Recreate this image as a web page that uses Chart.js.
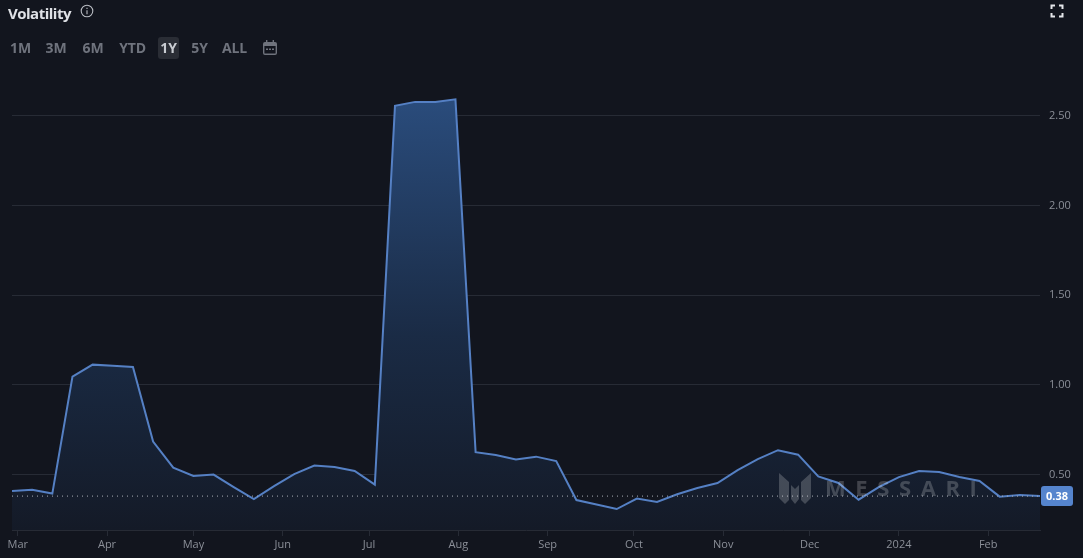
<!DOCTYPE html>
<html>
<head>
<meta charset="utf-8">
<title>Volatility</title>
<script src="https://cdn.jsdelivr.net/npm/chart.js@4"></script>
<style>
  html, body { margin: 0; padding: 0; background: #12151e; width: 1083px; height: 558px; overflow: hidden; }
  body { position: relative; font-family: "Open Sans", Inter, sans-serif; }
  canvas { position: absolute; left: 0; top: 0; }
  .title { position: absolute; left: 8px; top: 3px; color: #dfe1e6; font-size: 15px; font-weight: 700; line-height: 20px; letter-spacing: -0.5px; }
  .info { position: absolute; left: 80px; top: 4px; }
  .full { position: absolute; left: 1050px; top: 4px; }
  .range { position: absolute; top: 37px; height: 22px; line-height: 22px; color: #6f737d; font-size: 14px; font-weight: 700; text-align: center; letter-spacing: -0.2px; }
  .range.active { background: #2a2d35; color: #c9ccd2; border-radius: 3px; }
  .cal { position: absolute; left: 263px; top: 40px; }
  .mark { position: absolute; left: 779px; top: 473px; }
  .brand { position: absolute; left: 825px; top: 473px; color: rgba(255,255,255,0.2); font-size: 22px; font-weight: 700; letter-spacing: 9.6px; line-height: 28px; }
</style>
</head>
<body>
<canvas id="chart" width="1083" height="558"></canvas>
<div class="title">Volatility</div>
<svg class="info" width="14" height="14" viewBox="0 0 14 14" fill="none" stroke="#b8bbc2" stroke-width="1.1"><circle cx="7" cy="7" r="5.8"/><path d="M7 6.2v4M7 3.8v1.1"/></svg>
<svg class="full" width="14" height="14" viewBox="0 0 14 14" fill="none" stroke="#e4e6ea" stroke-width="2"><path d="M1.5 5V1.5H5M9 1.5h3.5V5M12.5 9v3.5H9M5 12.5H1.5V9"/></svg>
<div id="ranges"></div>
<svg class="cal" width="14" height="15" viewBox="0 0 14 15" fill="#6f737d"><path d="M3 0h1.4v2h5.2V0H11v2h1a2 2 0 0 1 2 2v9a2 2 0 0 1-2 2H2a2 2 0 0 1-2-2V4a2 2 0 0 1 2-2h1zM1.4 6v7c0 .4.2.6.6.6h10c.4 0 .6-.2.6-.6V6z"/><path d="M3 8.5h2V10H3zM6 8.5h2V10H6zM9 8.5h2V10H9z"/></svg>
<svg class="mark" width="32" height="31" viewBox="0 0 32 31" fill="rgba(255,255,255,0.2)"><path d="M0 0l10 9v18l-4 4-6-6zM32 0l-10 9v18l4 4 6-6zM12 12l4 4 4-4v14l-4 5-4-5z"/></svg>
<div class="brand">MESSARI</div>
<script>
const weekDates = [
  '2023-02-27', '2023-03-06', '2023-03-13', '2023-03-20', '2023-03-27', '2023-04-03', '2023-04-10',
  '2023-04-17', '2023-04-24', '2023-05-01', '2023-05-08', '2023-05-15', '2023-05-22', '2023-05-29',
  '2023-06-05', '2023-06-12', '2023-06-19', '2023-06-26', '2023-07-03', '2023-07-10', '2023-07-17',
  '2023-07-24', '2023-07-31', '2023-08-07', '2023-08-14', '2023-08-21', '2023-08-28', '2023-09-04',
  '2023-09-11', '2023-09-18', '2023-09-25', '2023-10-02', '2023-10-09', '2023-10-16', '2023-10-23',
  '2023-10-30', '2023-11-06', '2023-11-13', '2023-11-20', '2023-11-27', '2023-12-04', '2023-12-11',
  '2023-12-18', '2023-12-25', '2024-01-01', '2024-01-08', '2024-01-15', '2024-01-22', '2024-01-29',
  '2024-02-05', '2024-02-12', '2024-02-19'
];
const volatility = [
  0.408, 0.416, 0.394, 1.046, 1.113, 1.107, 1.100, 0.684, 0.539, 0.492, 0.500, 0.430, 0.363,
  0.436, 0.503, 0.550, 0.542, 0.520, 0.444, 2.556, 2.578, 2.578, 2.592, 0.625, 0.609, 0.584,
  0.600, 0.575, 0.358, 0.333, 0.308, 0.366, 0.347, 0.390, 0.425, 0.453, 0.525, 0.586, 0.636,
  0.611, 0.490, 0.453, 0.360, 0.430, 0.486, 0.520, 0.514, 0.486, 0.464, 0.377, 0.386, 0.380
];
const xTickDates = ['2023-03-01', '2023-04-01', '2023-05-01', '2023-06-01', '2023-07-01', '2023-08-01',
  '2023-09-01', '2023-10-01', '2023-11-01', '2023-12-01', '2024-01-01', '2024-02-01'];
const xTickLabels = ['Mar', 'Apr', 'May', 'Jun', 'Jul', 'Aug', 'Sep', 'Oct', 'Nov', 'Dec', '2024', 'Feb'];
const yTicks = [0.5, 1, 1.5, 2, 2.5];
const rangeLabels = ['1M', '3M', '6M', 'YTD', '1Y', '5Y', 'ALL'];
const rangeLeft = [8, 42, 80, 115, 158, 188, 219];
const rangeWidth = [25, 28, 26, 35, 21, 23, 31];

const INK = { bg: '#12151e', grid: '#272b35', tick: '#8b8f98', line: '#5580c4', badge: '#5584cd', dots: '#a9adb5' };

document.getElementById('ranges').innerHTML = rangeLabels.map((r, i) =>
  `<div class="range${r === '1Y' ? ' active' : ''}" style="left:${rangeLeft[i]}px;width:${rangeWidth[i]}px">${r}</div>`
).join('');

const DAY = 86400000;
const start = Date.parse(weekDates[0]);
const toDay = d => (Date.parse(d) - start) / DAY;
const lastValue = volatility[volatility.length - 1];
const lastDay = toDay(weekDates[weekDates.length - 1]);
const tickDays = xTickDates.map(toDay);

/* value badge on the right axis */
const badgePlugin = {
  id: 'lastBadge',
  afterDraw(chart) {
    const ctx = chart.ctx;
    const y = chart.scales.y.getPixelForValue(lastValue);
    const x = chart.chartArea.right + 1;
    ctx.save();
    ctx.fillStyle = INK.badge;
    ctx.beginPath();
    ctx.roundRect(x, y - 10, 32, 20, 3);
    ctx.fill();
    ctx.fillStyle = '#ffffff';
    ctx.font = '700 11px "Open Sans", sans-serif';
    ctx.textAlign = 'center';
    ctx.textBaseline = 'middle';
    ctx.fillText(lastValue.toFixed(2), x + 16, y + 0.5);
    ctx.restore();
  }
};

new Chart(document.getElementById('chart').getContext('2d'), {
  type: 'line',
  data: {
    datasets: [
      {
        data: [{ x: 0, y: lastValue }, { x: lastDay, y: lastValue }],
        borderColor: INK.dots,
        borderWidth: 1,
        borderDash: [1, 4],
        pointRadius: 0,
        fill: false,
        order: 1,
      },
      {
        data: volatility.map((v, i) => ({ x: toDay(weekDates[i]), y: v })),
        borderColor: INK.line,
        borderWidth: 2,
        borderJoinStyle: 'miter',
        tension: 0,
        pointRadius: 0,
        fill: 'start',
        order: 2,
        backgroundColor: (c) => {
          const area = c.chart.chartArea;
          if (!area) return 'transparent';
          const g = c.chart.ctx.createLinearGradient(0, area.top + 18, 0, area.bottom);
          g.addColorStop(0, '#2a4c7c');
          g.addColorStop(0.55, '#1a2b45');
          g.addColorStop(1, '#141a27');
          return g;
        },
      }
    ]
  },
  options: {
    responsive: false,
    animation: false,
    parsing: false,
    layout: { padding: { left: 12, top: 80, right: 0, bottom: 0 } },
    plugins: { legend: { display: false }, tooltip: { enabled: false } },
    scales: {
      x: {
        type: 'linear',
        min: 0,
        max: lastDay,
        afterBuildTicks: (s) => { s.ticks = tickDays.map(v => ({ value: v })); },
        afterFit: (s) => { s.height = 28; },
        grid: { drawOnChartArea: false, drawTicks: true, tickLength: 6, tickColor: INK.grid },
        border: { color: INK.grid },
        ticks: {
          autoSkip: false,
          maxRotation: 0,
          padding: 2,
          color: INK.tick,
          font: { family: 'Open Sans', size: 11 },
          callback: (v) => xTickLabels[tickDays.indexOf(v)] ?? '',
        },
      },
      y: {
        position: 'right',
        min: 0.191,
        max: 2.7,
        afterBuildTicks: (s) => { s.ticks = yTicks.map(v => ({ value: v })); },
        afterFit: (s) => { s.width = 43; },
        grid: { color: INK.grid, drawTicks: false },
        border: { display: false },
        ticks: {
          padding: 9,
          color: INK.tick,
          font: { family: 'Open Sans', size: 11 },
          callback: (v) => v.toFixed(2),
        },
      }
    }
  },
  plugins: [badgePlugin]
});
</script>
</body>
</html>
